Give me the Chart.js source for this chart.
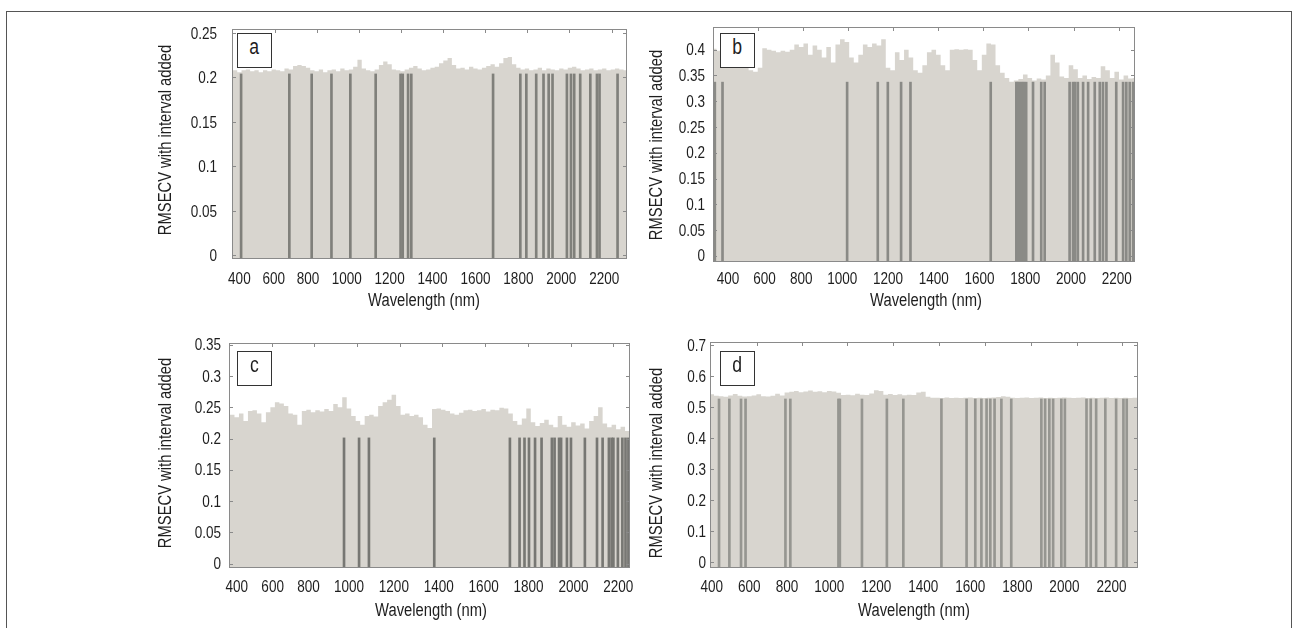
<!DOCTYPE html>
<html>
<head>
<meta charset="utf-8">
<script src="https://cdn.jsdelivr.net/npm/chart.js@4.4.1/dist/chart.umd.min.js"></script>
<style>
  html, body { margin: 0; padding: 0; background: #fff; }
  body { width: 1292px; height: 628px; position: relative; overflow: hidden; }
  canvas { position: absolute; left: 0; top: 0; }
  .frame { position: absolute; left: 6px; top: 11px; width: 1286px; height: 700px; box-sizing: border-box;
           border: 1px solid #555; border-bottom: none; }
  .tag { position: absolute; width: 35px; height: 35px; box-sizing: border-box; border: 1px solid #333;
         background: #fff; color: #1e1e1e; text-align: center; line-height: 31px; z-index: 5;
         font: 22px 'Liberation Sans', Arial, sans-serif; }
  .tag span { display: inline-block; transform: scaleX(0.8); }
</style>
</head>
<body>
<div class="frame"></div>
<canvas id="chartA" width="1292" height="628"></canvas>
<canvas id="chartB" width="1292" height="628"></canvas>
<canvas id="chartC" width="1292" height="628"></canvas>
<canvas id="chartD" width="1292" height="628"></canvas>
<div class="tag" style="left:237px;top:33px"><span>a</span></div>
<div class="tag" style="left:720px;top:33px"><span>b</span></div>
<div class="tag" style="left:237px;top:351px"><span>c</span></div>
<div class="tag" style="left:720px;top:351px"><span>d</span></div>
<script>
// spectral bands (variable order of the x axis, VNIR 25 nm / SWIR 20 nm)
const BANDS = [300, 325, 350, 375, 400, 425, 450, 475, 500, 525, 550, 575, 600, 625, 650, 675, 700,
  725, 750, 775, 800, 825, 850, 875, 900,
  920, 940, 960, 980, 1000, 1020, 1040, 1060, 1080, 1100, 1120, 1140, 1160, 1180, 1200, 1220, 1240,
  1260, 1280, 1300, 1320, 1340, 1360, 1380, 1400, 1420, 1440, 1460, 1480, 1500, 1520, 1540, 1560,
  1580, 1600, 1620, 1640, 1660, 1680, 1700, 1720, 1740, 1760, 1780, 1800, 1820, 1840, 1860, 1880,
  1900, 1920, 1940, 1960, 1980, 2000, 2020, 2040, 2060, 2080, 2100, 2120, 2140, 2160, 2180, 2200,
  2220, 2240, 2260, 2280, 2300, 2320, 2340];

const X_TICKS = [400, 600, 800, 1000, 1200, 1400, 1600, 1800, 2000, 2200];

// (a)
const A_VALUES = [0.207,
  0.207, 0.207, 0.208, 0.206, 0.208, 0.209, 0.207, 0.208, 0.206, 0.208,
  0.207, 0.209, 0.208, 0.207, 0.210, 0.209, 0.213, 0.214, 0.213, 0.211,
  0.208, 0.207, 0.209, 0.206, 0.208, 0.209, 0.207, 0.210, 0.208, 0.209,
  0.212, 0.220, 0.210, 0.208, 0.207, 0.209, 0.214, 0.218, 0.215, 0.209,
  0.208, 0.207, 0.209, 0.211, 0.213, 0.210, 0.208, 0.209, 0.211, 0.212,
  0.216, 0.219, 0.222, 0.214, 0.210, 0.211, 0.209, 0.212, 0.210, 0.209,
  0.211, 0.213, 0.215, 0.212, 0.216, 0.222, 0.223, 0.215, 0.211, 0.209,
  0.210, 0.208, 0.209, 0.211, 0.208, 0.210, 0.209, 0.208, 0.210, 0.209,
  0.211, 0.212, 0.210, 0.208, 0.209, 0.210, 0.208, 0.209, 0.210, 0.208,
  0.209, 0.210, 0.209, 0.208, 0.209, 0.208];
const A_SELECTED = [410, 691, 821, 929, 1017, 1135, 1251, 1261, 1286, 1301, 1682, 1809, 1837, 1883,
  1917, 1941, 1959, 2026, 2045, 2060, 2088, 2135, 2166, 2178, 2262];
const A_SEL_HEIGHT = 0.204;
const A_Y_TICKS = [0, 0.05, 0.1, 0.15, 0.2, 0.25];
const A_Y_RANGE = [-0.004, 0.2545];
const A_X_RANGE = [357, 2306];
const A_TOP_TICKS = [610, 852, 1059, 1254, 1448, 1646, 1840, 2038, 2236];

// (b)
const B_VALUES = [0.400,
  0.402, 0.398, 0.385, 0.370, 0.370, 0.365, 0.372, 0.368, 0.360, 0.357,
  0.365, 0.403, 0.400, 0.398, 0.395, 0.398, 0.396, 0.400, 0.410, 0.405,
  0.412, 0.390, 0.408, 0.400, 0.385, 0.405, 0.375, 0.410, 0.420, 0.415,
  0.385, 0.375, 0.390, 0.410, 0.405, 0.412, 0.408, 0.420, 0.365, 0.360,
  0.395, 0.380, 0.400, 0.385, 0.360, 0.355, 0.370, 0.395, 0.400, 0.390,
  0.370, 0.360, 0.400, 0.401, 0.400, 0.401, 0.400, 0.380, 0.360, 0.390,
  0.412, 0.410, 0.370, 0.355, 0.345, 0.338, 0.340, 0.343, 0.352, 0.345,
  0.340, 0.344, 0.342, 0.350, 0.390, 0.375, 0.348, 0.345, 0.370, 0.362,
  0.345, 0.350, 0.343, 0.347, 0.345, 0.368, 0.360, 0.345, 0.357, 0.342,
  0.350, 0.344, 0.345, 0.342, 0.343, 0.340];
const B_SELECTED = [328, 370, 1021, 1155, 1199, 1257, 1298, 1649, 1761, 1768, 1777, 1786, 1794, 1804,
  1834, 1870, 1885, 1994, 2009, 2018, 2030, 2053, 2075, 2104, 2126, 2140, 2155, 2198, 2228, 2242,
  2257, 2272];
const B_SEL_HEIGHT = 0.337;
const B_Y_TICKS = [0, 0.05, 0.1, 0.15, 0.2, 0.25, 0.3, 0.35, 0.4];
const B_Y_RANGE = [-0.012, 0.444];
const B_X_RANGE = [318, 2280];
const B_TOP_TICKS = [562, 809, 1024, 1221, 1418, 1615, 1812, 2012, 2209];

// (c)
const C_VALUES = [0.235,
  0.235, 0.236, 0.238, 0.234, 0.240, 0.228, 0.244, 0.245, 0.240, 0.226,
  0.242, 0.250, 0.258, 0.256, 0.252, 0.240, 0.238, 0.222, 0.244, 0.246,
  0.242, 0.245, 0.243, 0.247, 0.244, 0.255, 0.250, 0.266, 0.248, 0.236,
  0.228, 0.222, 0.236, 0.238, 0.235, 0.252, 0.258, 0.262, 0.270, 0.252,
  0.238, 0.240, 0.236, 0.238, 0.234, 0.222, 0.217, 0.247, 0.248, 0.246,
  0.244, 0.240, 0.238, 0.241, 0.245, 0.246, 0.244, 0.245, 0.247, 0.243,
  0.246, 0.245, 0.249, 0.248, 0.240, 0.228, 0.222, 0.232, 0.248, 0.226,
  0.220, 0.225, 0.230, 0.222, 0.218, 0.236, 0.222, 0.219, 0.226, 0.221,
  0.224, 0.216, 0.228, 0.236, 0.250, 0.224, 0.218, 0.222, 0.215, 0.219,
  0.212, 0.214, 0.216, 0.213, 0.215, 0.214];
const C_SELECTED = [978, 1045, 1089, 1380, 1717, 1760, 1782, 1802, 1829, 1858, 1904, 1916, 1936, 1945,
  1971, 1989, 2051, 2105, 2130, 2158, 2170, 2178, 2198, 2218, 2232, 2245];
const C_SEL_HEIGHT = 0.201;
const C_Y_TICKS = [0, 0.05, 0.1, 0.15, 0.2, 0.25, 0.3, 0.35];
const C_Y_RANGE = [-0.007, 0.3527];
const C_X_RANGE = [357, 2252];
const C_TOP_TICKS = [595, 832, 1034, 1228, 1416, 1606, 1796, 1988, 2178];

// (d)
const D_VALUES = [0.535,
  0.535, 0.536, 0.537, 0.542, 0.537, 0.536, 0.534, 0.538, 0.543, 0.537,
  0.535, 0.536, 0.538, 0.542, 0.536, 0.535, 0.537, 0.544, 0.538, 0.548,
  0.550, 0.553, 0.549, 0.551, 0.554, 0.550, 0.552, 0.549, 0.553, 0.551,
  0.547, 0.540, 0.541, 0.539, 0.544, 0.541, 0.540, 0.545, 0.555, 0.553,
  0.541, 0.543, 0.540, 0.542, 0.539, 0.541, 0.540, 0.548, 0.550, 0.534,
  0.531, 0.531, 0.530, 0.532, 0.530, 0.531, 0.530, 0.531, 0.532, 0.530,
  0.531, 0.530, 0.531, 0.532, 0.533, 0.536, 0.534, 0.531, 0.530, 0.531,
  0.532, 0.530, 0.531, 0.532, 0.530, 0.531, 0.530, 0.531, 0.532, 0.531,
  0.530, 0.531, 0.532, 0.530, 0.531, 0.530, 0.531, 0.532, 0.530, 0.531,
  0.530, 0.531, 0.530, 0.531, 0.530, 0.531];
const D_SELECTED = [439, 494, 556, 580, 792, 818, 1039, 1045, 1139, 1245, 1315, 1477, 1584, 1621,
  1647, 1669, 1685, 1703, 1732, 1774, 1902, 1918, 1936, 1952, 1987, 2002, 2094, 2112, 2135, 2174,
  2220, 2251, 2265];
const D_SEL_HEIGHT = 0.527;
const D_Y_TICKS = [0, 0.1, 0.2, 0.3, 0.4, 0.5, 0.6, 0.7];
const D_Y_RANGE = [-0.019, 0.711];
const D_X_RANGE = [391, 2313];
const D_TOP_TICKS = [639, 881, 1076, 1272, 1466, 1662, 1856, 2052, 2245];

const FONT = "'Liberation Sans', Arial, sans-serif";
const NARROW = 0.82;   // horizontal squeeze, the figure uses a condensed face
const TEXT = '#1e1e1e';
const FILL = '#d8d5cf';
const AXIS = '#8a8a8a';
const TICK_SIZE = 16.5;
const TITLE_SIZE = 18;

// wavelength -> position in the band order (variables are evenly spaced on the axis)
function bandIndex(wl) {
  if (wl <= BANDS[0]) return (wl - BANDS[0]) / (BANDS[1] - BANDS[0]);
  for (let i = 0; i < BANDS.length - 1; i++) {
    if (wl <= BANDS[i + 1]) return i + (wl - BANDS[i]) / (BANDS[i + 1] - BANDS[i]);
  }
  const n = BANDS.length - 1;
  return n + (wl - BANDS[n]) / (BANDS[n] - BANDS[n - 1]);
}

function narrowText(ctx, text, x, y, size, align, vertical) {
  ctx.save();
  ctx.translate(x, y);
  if (vertical) ctx.rotate(-Math.PI / 2);
  ctx.scale(NARROW, 1);
  ctx.font = size + 'px ' + FONT;
  ctx.fillStyle = TEXT;
  ctx.textAlign = align;
  ctx.textBaseline = 'middle';
  ctx.fillText(text, 0, 0);
  ctx.restore();
}

// axes box with inward ticks, plus the labels in a condensed face
const boxPlugin = {
  id: 'matlabBox',
  afterDatasetsDraw(chart, args, opts) {
    const { ctx, chartArea: a, scales: { x, y } } = chart;
    ctx.save();
    ctx.strokeStyle = AXIS;
    ctx.lineWidth = 1;
    ctx.strokeRect(a.left + 0.5, a.top + 0.5, a.right - a.left - 1, a.bottom - a.top - 1);
    ctx.beginPath();
    opts.topTicks.forEach(wl => {
      const px = Math.round(x.getPixelForValue(bandIndex(wl))) + 0.5;
      ctx.moveTo(px, a.top); ctx.lineTo(px, a.top + 4);
    });
    y.ticks.forEach(t => {
      const py = Math.round(y.getPixelForValue(t.value)) + 0.5;
      ctx.moveTo(a.left, py); ctx.lineTo(a.left + 4, py);
      ctx.moveTo(a.right, py); ctx.lineTo(a.right - 4, py);
    });
    ctx.stroke();
    ctx.restore();
  },
  afterDraw(chart, args, opts) {
    const { ctx, chartArea: a, scales: { x, y } } = chart;
    X_TICKS.forEach(wl => {
      narrowText(ctx, String(wl), x.getPixelForValue(bandIndex(wl)), opts.xLabelY + 1, TICK_SIZE, 'center');
    });
    opts.yTicks.forEach(v => {
      narrowText(ctx, String(v), a.left - opts.yPad, y.getPixelForValue(v) + 1, TICK_SIZE, 'right');
    });
    narrowText(ctx, 'Wavelength (nm)', opts.xTitleX, opts.xTitleY + 1, TITLE_SIZE, 'center');
    narrowText(ctx, 'RMSECV with interval added', opts.yTitleX, opts.yTitleY, TITLE_SIZE, 'center', true);
  }
};

const PANELS = [
  { id: 'chartA', values: A_VALUES, selected: A_SELECTED, selHeight: A_SEL_HEIGHT, yTicks: A_Y_TICKS,
    yRange: A_Y_RANGE, xRange: A_X_RANGE, topTicks: A_TOP_TICKS, lineColor: '#80807b',
    area: { left: 232, right: 627, top: 29, bottom: 259 },
    yPad: 15, xLabelY: 278, xTitleX: 424, xTitleY: 300, yTitleX: 166, yTitleY: 140 },
  { id: 'chartB', values: B_VALUES, selected: B_SELECTED, selHeight: B_SEL_HEIGHT, yTicks: B_Y_TICKS,
    yRange: B_Y_RANGE, xRange: B_X_RANGE, topTicks: B_TOP_TICKS, lineColor: '#8a8a86',
    area: { left: 713, right: 1135, top: 27, bottom: 262 },
    yPad: 8, xLabelY: 278, xTitleX: 926, xTitleY: 300, yTitleX: 657, yTitleY: 145 },
  { id: 'chartC', values: C_VALUES, selected: C_SELECTED, selHeight: C_SEL_HEIGHT, yTicks: C_Y_TICKS,
    yRange: C_Y_RANGE, xRange: C_X_RANGE, topTicks: C_TOP_TICKS, lineColor: '#777773',
    area: { left: 229, right: 630, top: 343, bottom: 568 },
    yPad: 8, xLabelY: 586, xTitleX: 431, xTitleY: 610, yTitleX: 166, yTitleY: 453 },
  { id: 'chartD', values: D_VALUES, selected: D_SELECTED, selHeight: D_SEL_HEIGHT, yTicks: D_Y_TICKS,
    yRange: D_Y_RANGE, xRange: D_X_RANGE, topTicks: D_TOP_TICKS, lineColor: '#969691',
    area: { left: 710, right: 1138, top: 342, bottom: 568 },
    yPad: 4, xLabelY: 586, xTitleX: 914, xTitleY: 610, yTitleX: 657, yTitleY: 463 }
];

function makePanel(p) {
  const fillData = BANDS.map((wl, i) => ({ x: bandIndex(wl), y: p.values[i] }));
  const selData = p.selected.map(wl => ({ x: bandIndex(wl), y: p.selHeight }));
  const yAxisW = 60;
  const xAxisH = 50;

  new Chart(document.getElementById(p.id), {
    type: 'bar',
    data: {
      datasets: [
        { type: 'bar', data: selData, backgroundColor: p.lineColor, barThickness: 2,
          base: p.yRange[0], grouped: false, clip: 0, order: 0 },
        { type: 'line', data: fillData, stepped: 'middle', fill: 'start', backgroundColor: FILL,
          borderWidth: 0, pointRadius: 0, clip: 0, order: 1 }
      ]
    },
    options: {
      responsive: false,
      animation: false,
      events: [],
      layout: {
        padding: {
          left: p.area.left - yAxisW,
          top: p.area.top,
          right: 1292 - p.area.right,
          bottom: 628 - p.area.bottom - xAxisH
        }
      },
      plugins: {
        legend: { display: false },
        tooltip: { enabled: false },
        matlabBox: {
          topTicks: p.topTicks, yTicks: p.yTicks, yPad: p.yPad, xLabelY: p.xLabelY,
          xTitleX: p.xTitleX, xTitleY: p.xTitleY, yTitleX: p.yTitleX, yTitleY: p.yTitleY
        }
      },
      scales: {
        x: {
          type: 'linear',
          offset: false,
          min: bandIndex(p.xRange[0]),
          max: bandIndex(p.xRange[1]),
          grid: { display: false },
          border: { display: false },
          afterBuildTicks: ax => { ax.ticks = X_TICKS.map(wl => ({ value: bandIndex(wl) })); },
          ticks: { display: false },
          afterFit: ax => { ax.height = xAxisH; }
        },
        y: {
          min: p.yRange[0],
          max: p.yRange[1],
          grid: { display: false },
          border: { display: false },
          afterBuildTicks: ax => { ax.ticks = p.yTicks.map(v => ({ value: v })); },
          ticks: { display: false },
          afterFit: ax => { ax.width = yAxisW; }
        }
      }
    },
    plugins: [boxPlugin]
  });
}

PANELS.forEach(makePanel);
</script>
</body>
</html>
